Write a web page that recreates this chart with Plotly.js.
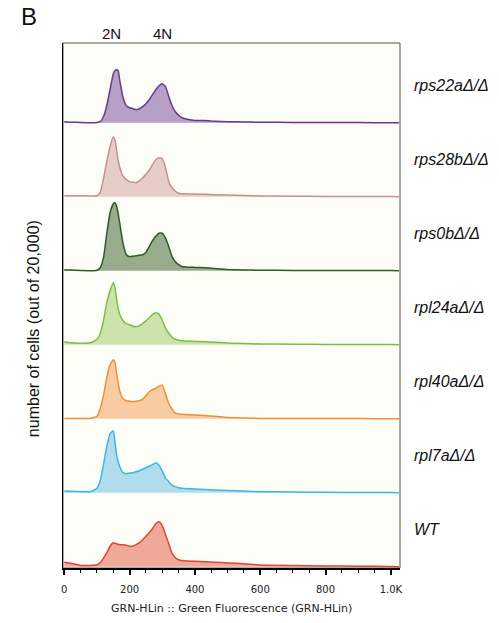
<!DOCTYPE html>
<html>
<head>
<meta charset="utf-8">
<script src="https://cdn.plot.ly/plotly-3.0.1.min.js"></script>
<style>html,body{margin:0;padding:0;background:#fff;}#chart{width:499px;height:623px;}</style>
</head>
<body>
<div id="chart"></div>
<script>
// Fluorescence bins (GRN-HLin)
const fluor = [0, 20, 50, 80, 100, 110, 120, 130, 140, 150, 155, 160, 165, 170, 180, 190, 200, 210, 220, 230, 240, 250, 260, 270, 280, 290, 300, 310, 320, 330, 340, 350, 360, 380, 400, 430, 460, 500, 550, 600, 700, 800, 900, 1000, 1025];

// Strain names (top to bottom)
const strains = ["rps22aΔ/Δ", "rps28bΔ/Δ", "rps0bΔ/Δ", "rpl24aΔ/Δ", "rpl40aΔ/Δ", "rpl7aΔ/Δ", "WT"];

// Relative cell counts for each strain
const rps22a = [1, 0.5, 0.2, 0, 0.2, 1, 6, 17, 33, 49, 52, 53, 52, 42, 25, 17, 15, 14, 13, 14, 16, 19, 23, 28, 33, 37, 39, 36, 26, 17, 11, 7.5, 5, 3.2, 2.3, 2.2, 1.5, 1, 0.7, 0.5, 0.3, 0.2, 0.1, 0, 0];
const rps28b = [1, 1, 1, 0.8, 1, 4.5, 18, 35, 50, 60, 57, 47, 36, 29, 20.5, 17, 15, 14.5, 14, 16, 19, 22.5, 26.5, 32, 37, 39, 38, 29, 15, 9, 5.5, 3.5, 3, 2.8, 2.6, 2.4, 2, 1.7, 1.2, 0.7, 0.5, 0.3, 0.2, 0.1, 0];
const rps0b = [1, 0.6, 0.3, 0, 0.5, 3, 13, 37, 58, 67, 68, 65, 57, 47, 27, 16, 14, 14.5, 15, 15.5, 16, 18.5, 24, 30, 34.5, 37.5, 37.5, 32.5, 24, 14, 9, 6, 4.2, 3.5, 3.3, 3, 2.3, 1.3, 0.8, 0.4, 0.3, 0.2, 0.1, 0.1, 0];
const rpl24a = [2.7, 2, 1.5, 2, 5.5, 11, 24, 42, 54, 62, 57, 46, 36, 30, 24, 21, 20, 18.5, 18, 19, 21, 24, 27, 30, 32, 30.5, 24.5, 16.5, 11.5, 7.5, 5.5, 4.5, 4, 3.5, 3.2, 3, 2.5, 1.7, 1.2, 0.7, 0.5, 0.3, 0.2, 0.1, 0];
const rpl40a = [0.3, 0.3, 0.3, 0.3, 2.5, 10, 23, 41, 54, 59, 56.5, 45, 36, 27.5, 20, 18, 17.5, 17, 17.5, 18, 19.5, 23, 27, 29, 30.5, 32.5, 33.5, 25, 15, 9.5, 5.5, 4.8, 4.4, 4, 3.6, 3.1, 2.5, 1.2, 0.7, 0.3, 0.2, 0.1, 0.1, 0, 0];
const rpl7a = [1.7, 1.4, 1.1, 1, 4.5, 12, 28, 46, 59, 62, 51, 38, 31, 26, 20, 19, 19.5, 20, 21, 22, 23.5, 25, 26.5, 28, 30, 27.5, 21.5, 14.5, 11, 7.5, 5.8, 5, 4.5, 4, 3.7, 3.3, 2.8, 2.3, 1.6, 1, 0.7, 0.4, 0.2, 0.1, 0];
const wt = [4.5, 3.5, 1.3, 1.3, 2, 4, 8.5, 14, 20.5, 24, 23.5, 23, 22.5, 22, 22, 21.5, 20.5, 20.5, 22, 24, 27, 30.5, 34, 38, 43, 45, 41, 32, 23, 13.5, 9, 7, 6.2, 5.7, 5.4, 5, 4.5, 3.7, 3, 1.7, 1.2, 0.8, 0.5, 0.3, 0];

// Axis tick labels
const tickVals = [0, 200, 400, 600, 800, 1000];
const tickText = ["0", "200", "400", "600", "800", "1.0K"];

const series = [rps22a, rps28b, rps0b, rpl24a, rpl40a, rpl7a, wt];
const lineColors = ["#6b3a8c", "#c4928e", "#2e5a2a", "#79bf43", "#ef8f3a", "#3cb6e2", "#e0443a"];
const fillColors = ["#b6a0c8", "#e6cdca", "#98ab8c", "#cde3ae", "#f9cba3", "#b1dcec", "#f0a898"];

const spacing = 74;
const n = series.length;
const traces = [];
const annotations = [];
series.forEach((vals, i) => {
  const off = (n - 1 - i) * spacing;
  traces.push({
    x: fluor, y: fluor.map(() => off), type: "scatter", mode: "lines",
    line: {width: 0, color: fillColors[i]}, hoverinfo: "skip", showlegend: false
  });
  traces.push({
    x: fluor, y: vals.map(v => v + off), type: "scatter", mode: "lines",
    line: {width: 1.5, color: lineColors[i], shape: "spline", smoothing: 0.4},
    fill: "tonexty", fillcolor: fillColors[i], name: strains[i], showlegend: false
  });
  annotations.push({
    xref: "paper", yref: "y", x: 1, y: off + 37, xanchor: "left", yanchor: "middle",
    xshift: 12, showarrow: false, text: "<i>" + strains[i] + "</i>",
    font: {family: "Liberation Sans, Arial, sans-serif", size: 16, color: "#111"}
  });
});

annotations.push(
  {xref: "x", yref: "paper", x: 146, y: 1, yanchor: "bottom", yshift: -1, showarrow: false, text: "2N",
   font: {family: "Liberation Sans, Arial, sans-serif", size: 15, color: "#111"}},
  {xref: "x", yref: "paper", x: 302, y: 1, yanchor: "bottom", yshift: -1, showarrow: false, text: "4N",
   font: {family: "Liberation Sans, Arial, sans-serif", size: 15, color: "#111"}},
  {xref: "paper", yref: "paper", x: 0, y: 1, xanchor: "left", yanchor: "middle", xshift: -44, yshift: 26.5,
   showarrow: false, text: "B", font: {family: "Liberation Sans, Arial, sans-serif", size: 24, color: "#111"}},
  {xref: "paper", yref: "paper", x: 0, y: 0.455, xanchor: "center", yanchor: "middle", xshift: -30,
   textangle: -90, showarrow: false, text: "number of cells (out of 20,000)",
   font: {family: "Liberation Sans, Arial, sans-serif", size: 16, color: "#111"}},
  {xref: "paper", yref: "paper", x: 0.5, y: 0, xanchor: "center", yanchor: "middle", yshift: -40,
   showarrow: false, text: "GRN-HLin :: Green Fluorescence (GRN-HLin)",
   font: {family: "DejaVu Sans, sans-serif", size: 11, color: "#222"}}
);

const layout = {
  width: 499, height: 623,
  margin: {l: 63, r: 99, t: 43, b: 55},
  paper_bgcolor: "#ffffff", plot_bgcolor: "#fdfdf7",
  showlegend: false,
  xaxis: {
    range: [-4, 1028], tickvals: tickVals, ticktext: tickText,
    ticks: "outside", ticklen: 5, tickwidth: 2, tickcolor: "#000",
    showline: true, linecolor: "#000", linewidth: 1.5,
    showgrid: false, zeroline: false, ticklabelstandoff: 6,
    tickfont: {family: "DejaVu Sans, sans-serif", size: 10, color: "#222"},
    minor: {dtick: 50, ticks: "outside", ticklen: 3, tickwidth: 1, tickcolor: "#000", showgrid: false}
  },
  yaxis: {
    range: [-1.3, 523.7], showticklabels: false, ticks: "",
    showline: true, linecolor: "#000", linewidth: 1.5,
    showgrid: false, zeroline: false
  },
  shapes: [{type: "rect", xref: "paper", yref: "paper", x0: 0, x1: 1, y0: 0, y1: 1,
            line: {color: "#555", width: 1}, fillcolor: "rgba(0,0,0,0)", layer: "below"}],
  annotations: annotations
};

Plotly.newPlot("chart", traces, layout, {staticPlot: true, displayModeBar: false});
</script>
</body>
</html>
